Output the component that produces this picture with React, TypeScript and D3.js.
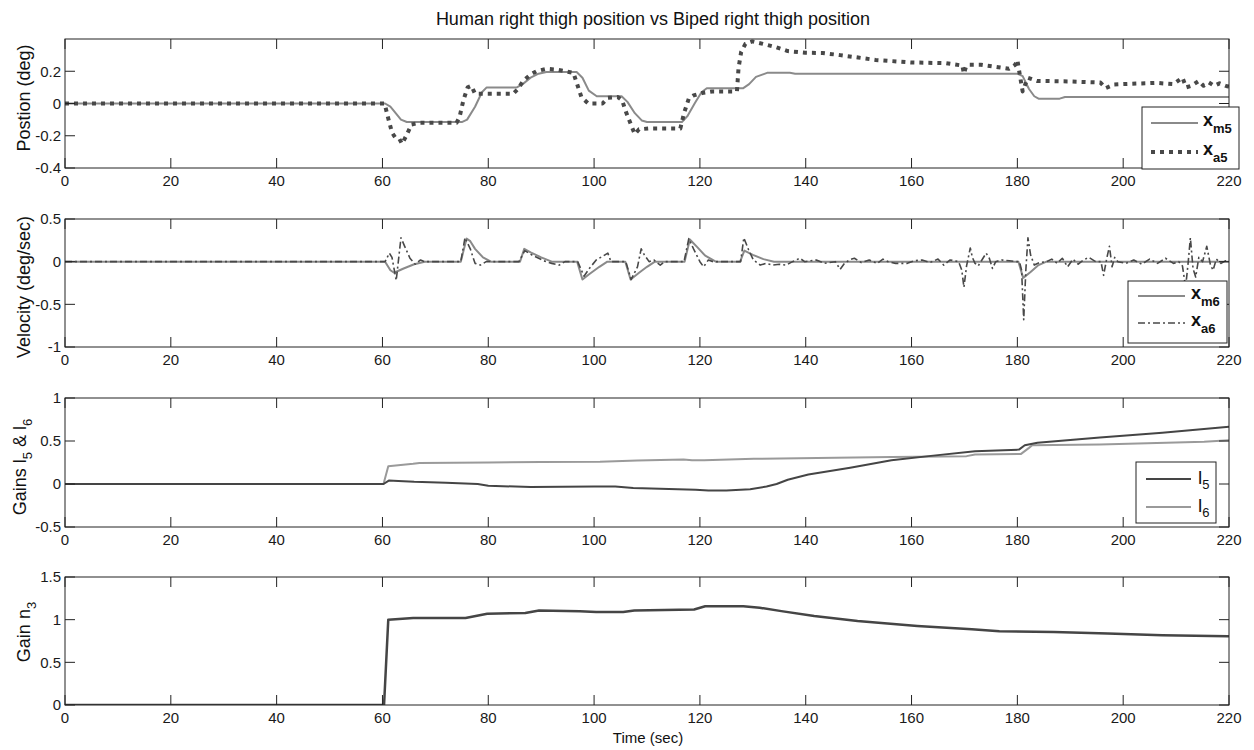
import React from 'react';
import * as d3 from 'd3';

// ---------- data ----------
const timeTicks = [0, 20, 40, 60, 80, 100, 120, 140, 160, 180, 200, 220];
const posTicks = [-0.4, -0.2, 0, 0.2];
const velTicks = [-1, -0.5, 0, 0.5];
const gainTicks = [-0.5, 0, 0.5, 1];
const n3Ticks = [0, 0.5, 1, 1.5];

const posM5: [number, number][] = [
  [0, 0], [60.5, 0], [61.5, -0.02], [62.5, -0.06], [63.5, -0.1], [64.6, -0.115], [75, -0.115], [76, -0.1],
  [77.5, -0.02], [78.8, 0.07], [79.7, 0.1], [85.4, 0.1], [86.5, 0.12], [88, 0.16], [89.5, 0.185], [91, 0.195],
  [96.7, 0.195], [97.8, 0.16], [99, 0.08], [100.5, 0.045], [105.2, 0.045], [106.3, 0.01], [107.7, -0.06],
  [109, -0.105], [110, -0.115], [116.6, -0.115], [117.6, -0.08], [119, 0.0], [120.3, 0.07], [121.3, 0.095],
  [128.2, 0.095], [129.3, 0.12], [130.6, 0.165], [132.7, 0.19], [137, 0.19], [138, 0.185], [180, 0.185],
  [181, 0.17], [182.2, 0.09], [183.2, 0.045], [184, 0.03], [188, 0.03], [189, 0.04], [220, 0.04],
];

const posA5: [number, number][] = [
  [0, 0], [60.4, 0], [61, -0.08], [61.8, -0.18], [62.4, -0.21], [63.2, -0.22], [63.7, -0.25], [64.5, -0.2],
  [65.5, -0.13], [67, -0.12], [74, -0.12], [74.6, -0.08], [75.3, 0.02], [76.1, 0.1], [76.8, 0.11], [77.5, 0.06],
  [84.7, 0.06], [85.6, 0.09], [86.6, 0.14], [88, 0.18], [89.1, 0.2], [91, 0.215], [93, 0.21], [96.1, 0.19],
  [96.7, 0.13], [97.6, 0.04], [98.9, 0.0], [101.6, 0.0], [102.6, 0.035], [104.5, 0.04], [105.3, 0.02],
  [106, -0.05], [107.2, -0.15], [107.7, -0.19], [108.5, -0.16], [110.3, -0.155], [116.3, -0.155], [117, -0.06],
  [117.9, 0.03], [118.8, 0.05], [120.4, 0.065], [122.3, 0.075], [127, 0.075], [127.3, 0.22], [127.8, 0.32],
  [128.6, 0.37], [129.9, 0.385], [131.9, 0.37], [134.3, 0.35], [136.6, 0.325], [139.9, 0.315], [143.2, 0.313],
  [146.5, 0.3], [149.9, 0.285], [153.2, 0.27], [159.8, 0.255], [166.5, 0.25], [169.6, 0.235], [169.9, 0.185],
  [170.3, 0.23], [171, 0.24], [173.1, 0.24], [176.4, 0.225], [178.4, 0.215], [179.6, 0.24], [180, 0.27],
  [180.5, 0.17], [181, 0.075], [181.5, 0.12], [182, 0.16], [183.7, 0.14], [189.6, 0.137], [195.7, 0.13],
  [196.7, 0.095], [198.3, 0.118], [199.5, 0.12], [206.2, 0.128], [209.5, 0.12], [211.2, 0.16], [211.9, 0.1],
  [212.9, 0.11], [214.3, 0.14], [215.2, 0.11], [216.2, 0.13], [217.2, 0.11], [218.2, 0.125], [219.6, 0.107],
  [220, 0.105],
];

const velM6: [number, number][] = [
  [0, 0], [60.5, 0], [61.5, -0.1], [62.2, -0.13], [64, -0.08], [66, -0.03], [68, 0], [74.8, 0], [75.9, 0.27],
  [76.6, 0.24], [77.5, 0.15], [79, 0.05], [80.5, 0], [86, 0], [86.8, 0.15], [88, 0.11], [90, 0.05], [92, 0],
  [96.8, 0], [97.8, -0.21], [99, -0.15], [101, -0.06], [102.5, 0], [105.9, 0], [106.9, -0.21], [108.5, -0.13],
  [110, -0.06], [111.5, 0], [117.1, 0], [118.1, 0.26], [119.5, 0.17], [121, 0.07], [123, 0], [127.6, 0],
  [128.4, 0.13], [130, 0.08], [132, 0.03], [134, 0], [180.2, 0], [181.1, -0.19], [182.5, -0.12], [184, -0.04],
  [185.5, 0], [220, 0],
];

const velA6: [number, number][] = [
  [0, 0], [60.5, 0], [61.3, 0.1], [61.8, 0.05], [62.6, -0.22], [63.5, 0.28], [64.2, 0.18], [65.2, 0.04],
  [66.2, -0.03], [67.2, 0.02], [68, 0], [69.5, 0],
  [74.8, 0], [75.6, 0.28], [76.6, 0.15], [77.5, -0.02], [78.5, -0.04], [79.6, 0],
  [85.8, 0], [86.9, 0.13], [88.2, 0.08], [90.5, 0.01], [92, -0.02], [93.4, -0.04], [94.5, 0],
  [96.9, 0], [98.1, -0.17], [99.1, -0.08], [100.4, 0.02], [101.8, 0.07], [102.6, 0.1], [103.2, 0],
  [106, 0], [107, -0.21], [108.2, -0.06], [108.9, 0.15], [109.5, 0.08], [110.4, 0], [111.3, 0.02],
  [112.5, -0.04], [113.3, 0],
  [117, 0], [117.9, 0.27], [118.8, 0.15], [120, 0], [120.7, -0.06], [121.6, 0.02], [122.5, 0],
  [127.7, 0], [128.3, 0.28], [129.2, 0.14], [130.1, 0.02], [131.4, -0.04], [132.5, -0.02], [133.8, -0.04],
  [135, -0.03], [136.3, -0.04], [137.5, 0], [138.9, 0.04], [139.8, 0],
  [142, 0.02], [143.5, -0.02], [145.6, 0], [146.5, -0.09], [147.2, -0.03], [148.2, 0.02], [149.2, 0.04],
  [150.5, -0.01], [152, 0.02], [153.5, -0.02], [154.6, 0.03], [155.6, 0], [157, -0.02], [159.2, -0.02],
  [160.5, 0.01], [162, 0.02], [163.5, -0.01], [165, 0.03], [166.1, -0.04], [167.3, 0.02],
  [168.9, 0], [169.5, -0.1], [169.9, -0.3], [170.4, -0.05], [171.1, 0.16], [171.5, 0.05], [172, -0.02],
  [172.6, -0.05], [173.3, 0.02], [174.1, 0.1], [174.7, 0.04], [175.3, -0.08], [175.9, 0], [177, 0.02],
  [178.5, 0.01], [179.8, 0],
  [180.4, 0], [180.8, -0.1], [181.2, -0.68], [181.6, -0.1], [182, 0.28], [182.5, 0.08], [183.2, -0.04],
  [184.2, -0.01], [185.5, 0],
  [186.5, 0.03], [187.5, -0.02], [188.5, 0.04], [189.5, -0.06], [190.5, 0.03], [191.5, -0.03], [192.5, 0.02],
  [193.5, 0.05], [194.8, 0],
  [195.8, 0], [196.3, -0.16], [196.9, 0.04], [197.4, 0.18], [197.9, -0.06], [198.4, 0.05], [199, 0],
  [200.5, -0.02], [202, 0.02], [203.5, -0.03], [205, 0.03], [206.5, -0.02], [208, 0.04], [209.5, -0.02],
  [210.5, 0], [211.2, -0.05], [211.8, -0.3], [212.3, 0.0], [212.7, 0.28], [213.2, -0.08], [213.7, -0.18],
  [214.3, 0.05], [215, 0.0], [215.8, 0.18], [216.5, -0.04], [217, -0.1], [217.6, 0.03], [218.5, -0.02],
  [219.3, 0.01], [220, 0],
];

const gainL5: [number, number][] = [
  [0, 0], [60.2, 0], [61.2, 0.04], [63, 0.035], [66, 0.025], [72, 0.015], [78, 0.0], [80, -0.02], [88, -0.035],
  [100, -0.03], [104, -0.03], [107.4, -0.047], [119.2, -0.066], [121.6, -0.077], [125, -0.075], [129.5, -0.06],
  [132.6, -0.03], [134.5, 0.0], [136.6, 0.05], [140.5, 0.11], [148.4, 0.19], [156.2, 0.275], [164.1, 0.33],
  [172, 0.38], [180.3, 0.4], [181.4, 0.45], [183.8, 0.48], [195.6, 0.54], [207.4, 0.597], [220, 0.665],
];

const gainL6: [number, number][] = [
  [0, 0], [60.2, 0], [61.1, 0.207], [65.8, 0.235], [67, 0.245], [80, 0.25], [90, 0.255], [101.1, 0.26],
  [108.2, 0.274], [116.9, 0.286], [118.5, 0.275], [120.8, 0.277], [130.2, 0.293], [156.2, 0.313],
  [170.4, 0.324], [172, 0.344], [180.7, 0.35], [182.2, 0.42], [182.8, 0.45], [195.6, 0.46], [215.3, 0.49],
  [220, 0.508],
];

const gainN3: [number, number][] = [
  [0, 0], [60.3, 0], [61.1, 1.0], [65.8, 1.02], [75.7, 1.02], [79.8, 1.07], [87, 1.077], [89.6, 1.108],
  [97.3, 1.1], [100.4, 1.09], [105.5, 1.09], [107.6, 1.108], [118.9, 1.12], [121, 1.158], [128.2, 1.158],
  [131.3, 1.14], [135.4, 1.1], [141.6, 1.042], [149.8, 0.984], [161.1, 0.926], [171.4, 0.887],
  [176.6, 0.864], [186.9, 0.856], [197.1, 0.837], [207.4, 0.817], [219.8, 0.806], [220, 0.8],
];

// ---------- styling ----------
const FONT = "'Liberation Sans', Arial, Helvetica, sans-serif";
const AX = '#222';
const STY: Record<string, { stroke: string; width: number; dash?: string }> = {
  m: { stroke: '#8a8a8a', width: 2 },
  a5: { stroke: '#484848', width: 4, dash: '4 5' },
  a6: { stroke: '#484848', width: 1.6, dash: '7 3 2 3' },
  l5: { stroke: '#454545', width: 2 },
  l6: { stroke: '#9a9a9a', width: 2 },
  n3: { stroke: '#454545', width: 2.5 },
};

const X0 = 65;
const X1 = 1229;
const xScale = d3.scaleLinear().domain([0, 220]).range([X0, X1]);

type Series = { data: [number, number][]; style: string };
type LegendItem = { style: string; main: string; sub: string; y: number; bold: boolean };
type PanelDef = {
  id: string;
  top: number;
  bottom: number;
  domain: [number, number];
  ticks: number[];
  series: Series[];
  legend: { x: number; y: number; w: number; h: number; lineX0: number; lineX1: number; textX: number; items: LegendItem[] } | null;
};

const panels: PanelDef[] = [
  {
    id: 'p1', top: 39, bottom: 168, domain: [-0.4, 0.4], ticks: posTicks,
    series: [{ data: posM5, style: 'm' }, { data: posA5, style: 'a5' }],
    legend: {
      x: 1142, y: 107, w: 97, h: 62, lineX0: 1151, lineX1: 1198, textX: 1203,
      items: [
        { style: 'm', main: 'x', sub: 'm5', y: 123, bold: true },
        { style: 'a5', main: 'x', sub: 'a5', y: 152, bold: true },
      ],
    },
  },
  {
    id: 'p2', top: 219, bottom: 347, domain: [-1, 0.5], ticks: velTicks,
    series: [{ data: velM6, style: 'm' }, { data: velA6, style: 'a6' }],
    legend: {
      x: 1128, y: 281, w: 99, h: 62, lineX0: 1138, lineX1: 1185, textX: 1191,
      items: [
        { style: 'm', main: 'x', sub: 'm6', y: 296, bold: true },
        { style: 'a6', main: 'x', sub: 'a6', y: 323, bold: true },
      ],
    },
  },
  {
    id: 'p3', top: 398, bottom: 527, domain: [-0.5, 1], ticks: gainTicks,
    series: [{ data: gainL6, style: 'l6' }, { data: gainL5, style: 'l5' }],
    legend: {
      x: 1136, y: 462, w: 80, h: 61, lineX0: 1146, lineX1: 1191, textX: 1198,
      items: [
        { style: 'l5', main: 'l', sub: '5', y: 479, bold: false },
        { style: 'l6', main: 'l', sub: '6', y: 507, bold: false },
      ],
    },
  },
  {
    id: 'p4', top: 577, bottom: 705, domain: [0, 1.5], ticks: n3Ticks,
    series: [{ data: gainN3, style: 'n3' }],
    legend: null,
  },
];

function Panel({ p }: { p: PanelDef }) {
  const y = d3.scaleLinear().domain(p.domain).range([p.bottom, p.top]);
  const line = d3.line<[number, number]>().x((d) => xScale(d[0])).y((d) => y(d[1]));
  const TL = 10;
  return (
    <g>
      <defs>
        <clipPath id={`clip-${p.id}`}>
          <rect x={X0} y={p.top} width={X1 - X0} height={p.bottom - p.top} />
        </clipPath>
      </defs>
      <rect x={X0} y={p.top} width={X1 - X0} height={p.bottom - p.top} fill="#fff" />
      <g clipPath={`url(#clip-${p.id})`}>
        {p.series.map((s, i) => {
          const st = STY[s.style];
          return (
            <path key={i} d={line(s.data) || ''} fill="none" stroke={st.stroke} strokeWidth={st.width}
              strokeDasharray={st.dash} strokeLinejoin="round" />
          );
        })}
      </g>
      {timeTicks.map((t) => (
        <g key={`xt${t}`}>
          <line x1={xScale(t)} x2={xScale(t)} y1={p.bottom} y2={p.bottom - TL} stroke={AX} />
          <line x1={xScale(t)} x2={xScale(t)} y1={p.top} y2={p.top + TL} stroke={AX} />
          <text x={xScale(t)} y={p.bottom + 18} textAnchor="middle" fontSize={15} fill="#1a1a1a" fontFamily={FONT}>
            {String(t)}
          </text>
        </g>
      ))}
      {p.ticks.map((v) => (
        <g key={`yt${v}`}>
          <line x1={X0} x2={X0 + TL} y1={y(v)} y2={y(v)} stroke={AX} />
          <line x1={X1} x2={X1 - TL} y1={y(v)} y2={y(v)} stroke={AX} />
          <text x={61} y={y(v)} dy="0.36em" textAnchor="end" fontSize={15} fill="#1a1a1a" fontFamily={FONT}>
            {String(v)}
          </text>
        </g>
      ))}
      <rect x={X0} y={p.top} width={X1 - X0} height={p.bottom - p.top} fill="none" stroke={AX} strokeWidth={1} />
      {p.legend && (
        <g>
          <rect x={p.legend.x} y={p.legend.y} width={p.legend.w} height={p.legend.h} fill="#fff" stroke={AX} />
          {p.legend.items.map((it, i) => {
            const st = STY[it.style];
            return (
              <g key={i}>
                <line x1={p.legend!.lineX0} x2={p.legend!.lineX1} y1={it.y} y2={it.y} stroke={st.stroke}
                  strokeWidth={st.width} strokeDasharray={st.dash} />
                <text x={p.legend!.textX} y={it.y + (it.bold ? 3 : 5)} fontSize={it.bold ? 18 : 19}
                  fontWeight={it.bold ? 'bold' : 'normal'} fill="#111" fontFamily={FONT}>
                  {it.main}
                  <tspan fontSize={13} dy={it.bold ? 7 : 5}>{it.sub}</tspan>
                </text>
              </g>
            );
          })}
        </g>
      )}
    </g>
  );
}

export default function App() {
  return (
    <svg width={1254} height={750} viewBox="0 0 1254 750"
      style={{ position: 'absolute', left: 0, top: 0, background: '#fff' }}>
      <rect x={0} y={0} width={1254} height={750} fill="#fff" />
      <text x={653} y={25} textAnchor="middle" fontSize={18} fill="#111" fontFamily={FONT}>
        Human right thigh position vs Biped right thigh position
      </text>
      {panels.map((p) => (
        <Panel key={p.id} p={p} />
      ))}
      <text transform="translate(30,98) rotate(-90)" textAnchor="middle" fontSize={18} fill="#111" fontFamily={FONT}>
        Postion (deg)
      </text>
      <text transform="translate(30,287) rotate(-90)" textAnchor="middle" fontSize={18} fill="#111" fontFamily={FONT}>
        Velocity (deg/sec)
      </text>
      <text transform="translate(26,467) rotate(-90)" textAnchor="middle" fontSize={18} fill="#111" fontFamily={FONT}>
        Gains l<tspan fontSize={13} dy={6}>5</tspan><tspan dy={-6}> &amp; l</tspan><tspan fontSize={13} dy={6}>6</tspan>
      </text>
      <text transform="translate(30,632) rotate(-90)" textAnchor="middle" fontSize={18} fill="#111" fontFamily={FONT}>
        Gain n<tspan fontSize={13} dy={6}>3</tspan>
      </text>
      <text x={648} y={743} textAnchor="middle" fontSize={15} fill="#111" fontFamily={FONT}>
        Time (sec)
      </text>
    </svg>
  );
}
